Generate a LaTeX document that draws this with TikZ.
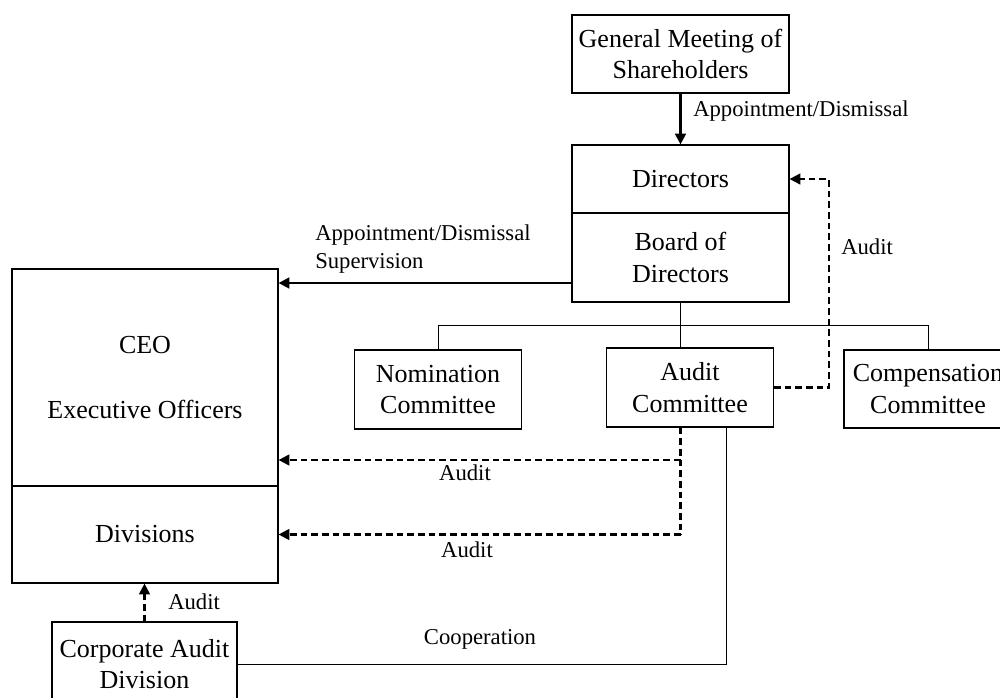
\documentclass[tikz,border=0pt]{standalone}
\usepackage{fontspec}
\setmainfont{Liberation Serif}
\usetikzlibrary{arrows.meta,calc}
\tikzset{
  box/.style={draw, line width=0.9pt, align=center, inner sep=0pt,
    font=\fontsize{19.5pt}{23.4pt}\selectfont},
  lbl/.style={inner sep=0pt, font=\fontsize{17pt}{21pt}\selectfont},
  thickarrow/.style={line width=1.8pt, -{Triangle[length=8pt,width=8pt]}},
  dashln/.style={line width=1.6pt, dash pattern=on 5pt off 3pt},
  dasharrow/.style={dashln, -{Triangle[length=8pt,width=8pt]}},
  thin line/.style={line width=0.7pt}
}
\begin{document}
\begin{tikzpicture}[x=0.75pt,y=-0.75pt]
\clip (0,0) rectangle (1000,697);
\fill[white] (0,0) rectangle (1000,697);
% boxes
\node[box, minimum width=217*0.75pt, minimum height=78*0.75pt] (gms) at (680.5,54) {General Meeting of\\Shareholders};
\node[box, minimum width=217*0.75pt, minimum height=68*0.75pt] (dir) at (680.5,179) {Directors};
\node[box, minimum width=217*0.75pt, minimum height=89*0.75pt] (board) at (680.5,257.5) {Board of\\Directors};
\node[box, minimum width=266*0.75pt, minimum height=217*0.75pt] (ceo) at (145,377.5) {CEO\\[25pt]Executive Officers};
\node[box, minimum width=266*0.75pt, minimum height=97*0.75pt] (div) at (145,534.5) {Divisions};
\node[box, minimum width=167*0.75pt, minimum height=79*0.75pt] (nom) at (438,389.5) {Nomination\\Committee};
\node[box, minimum width=167*0.75pt, minimum height=79*0.75pt] (aud) at (690,387.5) {Audit\\Committee};
\node[box, minimum width=168*0.75pt, minimum height=78*0.75pt] (comp) at (928,389) {Compensation\\Committee};
\node[box, minimum width=185*0.75pt, minimum height=84*0.75pt] (cad) at (144.5,664) {Corporate Audit\\Division};
% connectors
\draw[thickarrow] (gms.south) -- (dir.north);
\node[lbl, anchor=west] (l1) at (693,111) {Appointment/Dismissal};
\draw[thickarrow] (board.west |- 0,283) -- (ceo.east |- 0,283);
\node[lbl, anchor=west, align=left] (l2) at (315,249) {Appointment/Dismissal\\Supervision};
% tree
\draw[thin line] (board.south) -- (board.south |- aud.north);
\draw[thin line] (nom.north) -- ++(0,-24) -| (comp.north);
% audit dashed to directors
\draw[dasharrow] (aud.east) -- ++(55,0) |- (dir.east);
\node[lbl, anchor=west] (l3) at (841,247) {Audit};
% audit dashed down
\draw[dashln] (board.south |- aud.south) -- (board.south |- div.east);
\draw[dasharrow] (board.south |- div.east) -- (div.east);
\draw[dasharrow] (board.south |- 0,460) -- (ceo.east |- 0,460);
\node[lbl] (l4) at (465,473) {Audit};
\node[lbl] (l5) at (467,550) {Audit};
% cooperation
\draw[thin line] ([xshift=27pt]aud.south) |- (cad.east);
\node[lbl] (l6) at (480,639) {Cooperation};
% corporate audit
\draw[dasharrow] (cad.north) -- (cad.north |- div.south);
\node[lbl, anchor=west] (l7) at (168,602) {Audit};
\end{tikzpicture}
\end{document}
